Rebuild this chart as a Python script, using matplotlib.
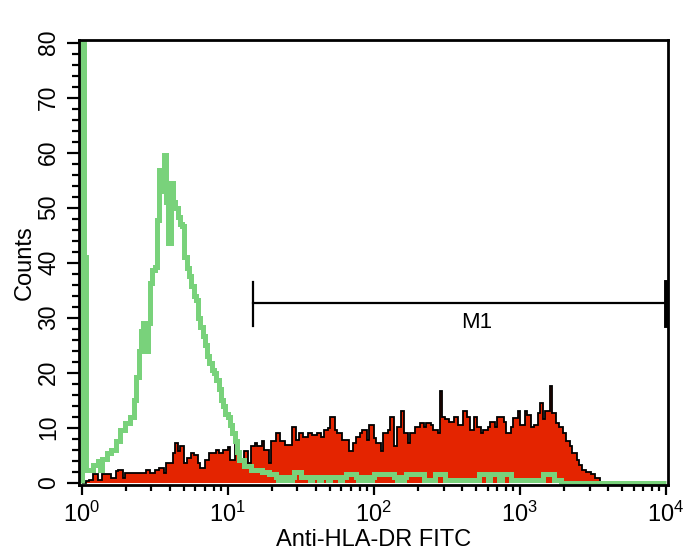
import numpy as np
import matplotlib
matplotlib.use("Agg")
import matplotlib.pyplot as plt
from matplotlib.ticker import LogLocator, MultipleLocator

plt.rcParams['font.family'] = ['Liberation Sans', 'DejaVu Sans']
plt.rcParams['mathtext.fontset'] = 'custom'
plt.rcParams['mathtext.rm'] = 'Liberation Sans'

# 256 log channels over 4 decades (64 per decade)
n_channels = 256
decades = 4

# isotype control (green outline)
green_counts = [
    200, 41, 2.4, 2.4, 2.4, 3.3, 3.3, 3.9, 2.4, 4.3, 4.3, 5.4, 5.4, 6, 6, 7.5,
    7.5, 9.6, 9.6, 10.9, 10.9, 12, 12, 15, 19.3, 24, 27.5, 29, 24, 29, 36.3, 38.7,
    39.3, 47.8, 56.9, 53, 59.6, 51, 43.6, 54.5, 51, 50, 48.4, 47, 46.6, 41, 39, 37.5,
    35.7, 34, 33.3, 30, 28.4, 26.6, 25, 23, 21.8, 20.5, 20, 18.7, 17, 15, 13.9, 12.5,
    12, 10.5, 9, 7.5, 5.5, 4.2, 4.2, 3, 3, 3, 2.4, 2.4, 2.4, 2.4, 2.4, 2,
    2, 2, 1.5, 1.5, 1.5, 1, 0.5, 1, 1, 0.5, 1, 0.5, 1, 2, 2, 2,
    1, 1, 1, 1, 0.5, 1, 1, 1, 0.5, 1, 1, 1, 0.5, 1, 1, 1,
    1, 0.5, 1, 1, 1.5, 1.5, 1.5, 1.5, 1, 0.5, 1, 0.5, 0.5, 1, 0.5, 1,
    1.5, 1.5, 1.5, 1.5, 1.5, 1.5, 1.5, 1.5, 1.5, 1, 0.5, 1, 0.5, 1, 1.5, 1.5,
    1.5, 1.5, 1.5, 1.5, 1.5, 1.5, 0.5, 0.5, 0.5, 0.5, 0.5, 1.5, 1.5, 1.5, 1.5, 0.5,
    0.5, 0.5, 0.5, 0.5, 0.5, 0.5, 0.5, 0.5, 0.5, 0.5, 0.5, 0.5, 0.5, 0.5, 1.5, 1.5,
    1.5, 1.5, 0.5, 1.5, 1.5, 1.5, 1.5, 0.5, 1.5, 1.5, 1.5, 1.5, 0.5, 0.5, 0.5, 0.5,
    0.5, 0.5, 0.5, 0.5, 0.5, 0.5, 0.5, 0.5, 0.5, 0.5, 1.5, 1.5, 1.5, 1.5, 1.5, 0.5,
    0.5, 0.5, 0, 0, 0, 0, 0, 0, 0, 0, 0, 0, 0, 0, 0, 0,
    0, 0, 0, 0, 0, 0, 0, 0, 0, 0, 0, 0, 0, 0, 0, 0,
    0, 0, 0, 0, 0, 0, 0, 0, 0, 0, 0, 0, 0, 0, 0, 0,
]

# Anti-HLA-DR FITC stained sample (red filled)
red_counts = [
    0, 0, 0.3, 0.5, 0.5, 1.5, 1.5, 0.5, 0.5, 1.5, 1.5, 1.5, 1.5, 0.8, 0.8, 2.1,
    2.4, 2.4, 0.8, 1.75, 1.75, 1.75, 1.75, 1.75, 1.75, 1.75, 1.75, 1.75, 2.4, 2.4, 1.75, 1.75,
    2.4, 2.4, 2.7, 2.7, 1.75, 3.6, 3.6, 3.6, 5.4, 7.2, 5.7, 6.6, 6.6, 3.6, 4.5, 4.5,
    5.4, 5.1, 5.1, 3.6, 2.7, 2.7, 4.2, 4.2, 5.4, 5.4, 5.4, 6, 5.4, 5.4, 6, 6,
    6.5, 4.2, 4.2, 6.9, 6, 4.2, 4.2, 5.7, 5.7, 3.6, 6.6, 6.6, 7.2, 6.6, 6.6, 7.5,
    6, 6, 3.6, 7.5, 7.5, 9, 9, 7.5, 7.5, 6.9, 6.9, 6.9, 10.2, 10.2, 7.8, 9,
    9, 8.4, 8.4, 9, 9, 8.7, 8.7, 9, 9, 8.4, 9.6, 9.6, 9.9, 12, 12, 9.6,
    9, 9, 7.8, 7.8, 7.8, 5.7, 5.7, 7.2, 8.4, 8.4, 9, 9.6, 9.6, 7.8, 10.5, 10.5,
    8.1, 7.2, 7.2, 5.7, 9, 9, 9.6, 12, 12, 6.6, 10.2, 10.2, 13, 9, 9, 7.2,
    9, 9, 10.2, 10.2, 10.9, 10.9, 10.2, 10.9, 10.9, 10.5, 9.6, 9.6, 9, 16.6, 12, 11.5,
    11.5, 11.1, 11.1, 12, 12, 10.5, 10.5, 13, 13, 12, 9.6, 9.6, 12, 10.2, 10.2, 9,
    9.6, 9.6, 10.2, 11.1, 11.1, 10.2, 12, 12, 12, 11.1, 9, 9, 10.2, 11.7, 11.7, 13,
    10.5, 10.5, 13, 12.4, 12.4, 10.2, 10.5, 10.5, 12.7, 14.5, 11.5, 13, 13, 17.5, 12.7, 12.7,
    10.9, 10.2, 10.2, 9, 7.5, 7.5, 6.6, 5.4, 5.4, 4.2, 3.3, 2.4, 2.4, 2, 2, 1.5,
    1.5, 0.8, 0.8, 0, 0, 0, 0, 0, 0, 0, 0, 0, 0, 0, 0, 0,
    0, 0, 0, 0, 0, 0, 0, 0, 0, 0, 0, 0, 0, 0, 0, 0,
]

# M1 gate
m1_start, m1_end, m1_level = 15, 10000, 32.7

edges = 10 ** (np.arange(n_channels + 1) * decades / n_channels)

fig = plt.figure(figsize=(6.93, 5.54), dpi=100)
ax = fig.add_axes([0.114, 0.1245, 0.850, 0.8033])

ax.stairs(red_counts, edges, fill=True, color='#E42400', zorder=2)
ax.stairs(red_counts, edges, color='black', lw=1.3, zorder=3)
ax.stairs(green_counts, edges, color='#79D27B', lw=3.6, zorder=4)

# marker bar
ax.plot([m1_start, m1_end], [m1_level, m1_level], color='black', lw=1.6, zorder=5)
ax.plot([m1_start, m1_start], [m1_level - 4.2, m1_level + 3.8], color='black', lw=1.6, zorder=5)
ax.plot([m1_end, m1_end], [m1_level - 4.2, m1_level + 3.8], color='black', lw=2.8, zorder=5)
ax.text(508, 29.1, 'M1', ha='center', va='center', fontsize=16, zorder=5)

ax.set_xscale('log')
ax.set_xlim(0.959, 10320)
ax.set_ylim(-0.42, 80.5)

ax.xaxis.set_major_locator(LogLocator(base=10, numticks=10))
ax.xaxis.set_minor_locator(LogLocator(base=10, subs=np.arange(2, 10), numticks=10))
ax.yaxis.set_major_locator(MultipleLocator(10))
ax.yaxis.set_minor_locator(MultipleLocator(2))

ax.tick_params(axis='x', which='major', length=7.2, width=1.6, labelsize=17, pad=5)
ax.tick_params(axis='x', which='minor', length=4.3, width=1.6)
ax.tick_params(axis='y', which='major', length=8.6, width=1.6, labelsize=16.5, pad=5)
ax.tick_params(axis='y', which='minor', length=5, width=1.6)
for lbl in ax.get_yticklabels():
    lbl.set_rotation(90)
    lbl.set_va('center')

for sp in ax.spines.values():
    sp.set_linewidth(2)
    sp.set_zorder(6)

ax.set_xlabel('Anti-HLA-DR FITC', fontsize=17, labelpad=1.5)
ax.set_ylabel('Counts', fontsize=17, labelpad=1)

fig.savefig('out.png', dpi=100)
